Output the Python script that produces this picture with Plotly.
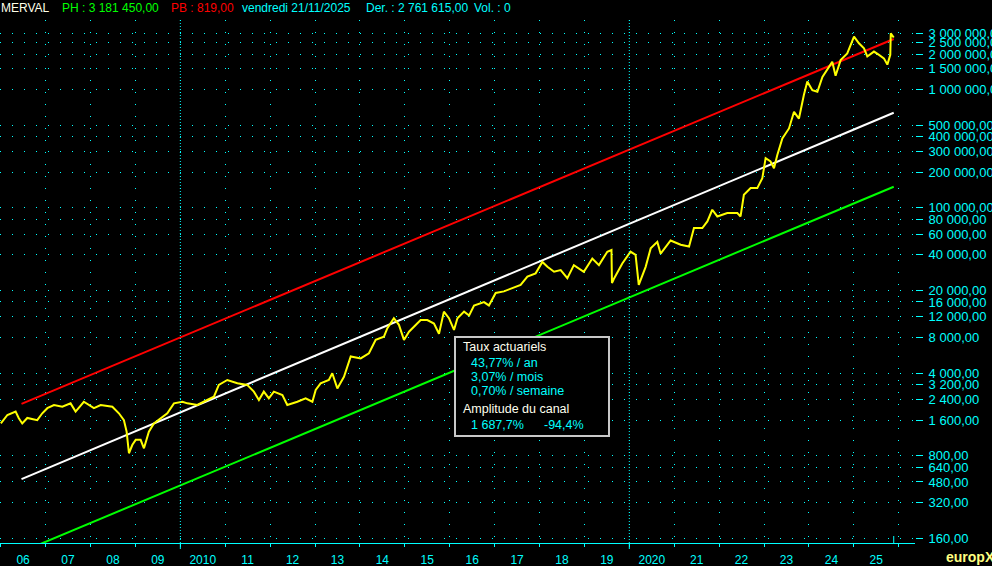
import plotly.graph_objects as go

# ---------------- data ----------------
price_dates = [
    "2006-01-02", "2006-02-24", "2006-05-02", "2006-05-28", "2006-06-25", "2006-08-05", "2006-10-25", "2006-12-05",
    "2007-01-15", "2007-03-10", "2007-05-17", "2007-07-23", "2007-09-02", "2007-11-08",
    "2008-01-29", "2008-03-24", "2008-06-27", "2008-08-19", "2008-09-29", "2008-10-21", "2008-11-09", "2008-12-07",
    "2009-01-03", "2009-02-12", "2009-03-11", "2009-04-20", "2009-05-31", "2009-07-24", "2009-09-17", "2009-11-10",
    "2010-01-18", "2010-02-27", "2010-05-19", "2010-08-08", "2010-10-01", "2010-11-10",
    "2011-01-18", "2011-04-10", "2011-06-29", "2011-08-22", "2011-10-02", "2011-11-11", "2011-12-22",
    "2012-02-01", "2012-04-10", "2012-05-20", "2012-08-10", "2012-10-16", "2012-12-10",
    "2013-01-06", "2013-02-15", "2013-04-23", "2013-05-21", "2013-07-01", "2013-08-24", "2013-10-18",
    "2014-01-07", "2014-03-15", "2014-05-09", "2014-07-15", "2014-08-12", "2014-10-04", "2014-11-14", "2014-12-25",
    "2015-02-04", "2015-05-10", "2015-07-03", "2015-08-26", "2015-10-06", "2015-11-15", "2015-12-26",
    "2016-02-05", "2016-03-04", "2016-04-27", "2016-06-07", "2016-07-17", "2016-10-06", "2016-11-15",
    "2017-01-09", "2017-03-17", "2017-05-25", "2017-07-31", "2017-09-24", "2017-11-30",
    "2018-01-24", "2018-03-06", "2018-04-29", "2018-06-22", "2018-08-15", "2018-10-07", "2018-12-27",
    "2019-03-06", "2019-04-29", "2019-07-06", "2019-08-09", "2019-08-13", "2019-08-28", "2019-11-05",
    "2020-01-11", "2020-02-21", "2020-03-18", "2020-05-13", "2020-06-23", "2020-08-16", "2020-09-12", "2020-12-02",
    "2021-02-22", "2021-05-01", "2021-06-10", "2021-08-17", "2021-09-27", "2021-11-06", "2021-12-17",
    "2022-03-08", "2022-05-29", "2022-06-24", "2022-07-21", "2022-09-14", "2022-11-07", "2022-12-18",
    "2023-01-14", "2023-02-23", "2023-03-23", "2023-04-19", "2023-05-30", "2023-07-23", "2023-09-02",
    "2023-10-12", "2023-11-21", "2023-12-19",
    "2024-01-29", "2024-03-10", "2024-04-20", "2024-07-09", "2024-08-05", "2024-09-15", "2024-11-08",
    "2025-01-02", "2025-02-11", "2025-03-24", "2025-04-20", "2025-06-13", "2025-07-24", "2025-09-02",
    "2025-09-30", "2025-10-24", "2025-10-28", "2025-11-05", "2025-11-21",
]
price_values = [
    1500, 1770, 1890, 1660, 1500, 1670, 1600, 1830,
    2020, 2150, 2080, 2220, 1890, 2290,
    2020, 2150, 2080, 1830, 1600, 1280, 840, 990,
    1090, 1090, 925, 1280, 1500, 1660, 1830, 2220,
    2290, 2220, 2150, 2370, 2530, 3180,
    3500, 3280, 3180, 2790, 2370, 2790, 2450,
    2790, 2610, 2150, 2290, 2450, 2290,
    2880, 3280, 3500, 3990, 2970, 3730, 5530,
    5330, 5890, 7640, 8140, 9590, 11660, 10250, 7640,
    8970, 11250, 11250, 10500, 8620, 13250, 11660,
    9280, 11660, 13250, 12300, 14950, 15940, 14950,
    19080, 19670, 20970, 22350, 26210, 27950,
    34900, 31730, 28830, 29770, 25410, 32790, 28830,
    37250, 32790, 42570, 43970, 23100, 25000, 33880,
    42570, 40000, 22350, 31730, 45440, 51570, 41000, 53020,
    48760, 47130, 67440, 67440, 76860, 96450, 84630,
    90430, 90430, 84630, 129000, 147000, 147000, 178600,
    263200, 246800, 216700, 280000, 386000, 470000, 650000,
    570000, 900000, 1170000,
    990000, 960000, 1280000, 1720000, 1310000, 1780000, 2030000,
    2810000, 2470000, 2240000, 1910000, 2100000, 1970000, 1840000,
    1630000, 1970000, 3000000, 2900000, 2761615,
]

channel_dates = ["2006-06-19", "2025-11-21"]
channel_upper = [2200, 2686000]
channel_middle = [508, 638000]
channel_lower = [123, 151000]

ytick_values = [3000000, 2500000, 2000000, 1500000, 1000000, 500000, 400000, 300000, 200000,
                100000, 80000, 60000, 40000, 20000, 16000, 12000, 8000, 4000, 3200, 2400,
                1600, 800, 640, 480, 320, 160]
ytick_labels = ["3 000 000,00", "2 500 000,00", "2 000 000,00", "1 500 000,00", "1 000 000,00",
                "500 000,00", "400 000,00", "300 000,00", "200 000,00", "100 000,00", "80 000,00",
                "60 000,00", "40 000,00", "20 000,00", "16 000,00", "12 000,00", "8 000,00",
                "4 000,00", "3 200,00", "2 400,00", "1 600,00", "800,00", "640,00", "480,00",
                "320,00", "160,00"]

year_mid_dates = ["%d-07-02" % y for y in range(2006, 2026)]
year_labels = ["06", "07", "08", "09", "2010", "11", "12", "13", "14", "15", "16",
               "17", "18", "19", "2020", "21", "22", "23", "24", "25"]

# ---------------- layout helpers ----------------
W, H = 992, 566
ML, MR, MT, MB = 0, 77, 20, 23
PW, PH = W - ML - MR, H - MT - MB
CYAN = "#00ffff"
FONT = "Liberation Sans, Arial, sans-serif"


def px(x):
    return (x - ML) / PW


def py(y):
    return (H - MB - y) / PH


fig = go.Figure()

fig.add_trace(go.Scatter(x=channel_dates, y=channel_upper, mode="lines",
                         line=dict(color="#ff0000", width=2), hoverinfo="skip"))
fig.add_trace(go.Scatter(x=channel_dates, y=channel_middle, mode="lines",
                         line=dict(color="#ffffff", width=2), hoverinfo="skip"))
fig.add_trace(go.Scatter(x=channel_dates, y=channel_lower, mode="lines",
                         line=dict(color="#00ff00", width=2), hoverinfo="skip"))
fig.add_trace(go.Scatter(x=price_dates, y=price_values, mode="lines",
                         line=dict(color="#ffff00", width=2), hoverinfo="skip"))

fig.update_layout(
    width=W, height=H, autosize=False,
    margin=dict(l=ML, r=MR, t=MT, b=MB, pad=0, autoexpand=False),
    paper_bgcolor="#000000", plot_bgcolor="#000000",
    showlegend=False,
    font=dict(family=FONT, size=12, color=CYAN),
)

fig.update_xaxes(
    type="date", automargin=False,
    range=["2005-12-26", "2026-05-13"],
    tickmode="array", tickvals=year_mid_dates, ticktext=year_labels,
    ticks="outside", ticklen=6, tickcolor="rgba(0,0,0,0)",
    tickfont=dict(family=FONT, size=12, color=CYAN),
    showgrid=False, zeroline=False,
    showline=True, linecolor=CYAN, linewidth=1,
    minor=dict(tickmode="linear", tick0="2006-01-01", dtick="M12", ticks="outside", ticklen=3,
               tickcolor=CYAN, showgrid=True, gridcolor=CYAN, gridwidth=1, griddash="1px,11px"),
)

fig.update_yaxes(
    type="log", side="right", automargin=False,
    range=[2.165, 6.5895],
    tickmode="array", tickvals=ytick_values, ticktext=ytick_labels,
    ticks="outside", ticklen=7, tickcolor=CYAN, tickwidth=1,
    ticklabelstandoff=3,
    tickfont=dict(family=FONT, size=13, color=CYAN),
    showgrid=True, gridcolor=CYAN, gridwidth=1, griddash="1px,11px",
    zeroline=False, showline=False,
)

shapes = []
for d in ["2010-01-01", "2020-01-01"]:
    shapes.append(dict(type="line", xref="x", yref="paper", x0=d, x1=d, y0=0, y1=1,
                       line=dict(color=CYAN, width=1, dash="1px,2px")))
    shapes.append(dict(type="line", xref="x", yref="paper", x0=d, x1=d, y0=0, y1=-6 / PH,
                       line=dict(color=CYAN, width=1)))
shapes.append(dict(type="line", xref="x", yref="paper", x0="2025-11-21", x1="2025-11-21",
                   y0=0, y1=7 / PH, line=dict(color=CYAN, width=1)))
# info box
shapes.append(dict(type="rect", xref="paper", yref="paper",
                   x0=px(455), x1=px(609), y0=py(436), y1=py(337),
                   fillcolor="#000000", line=dict(color="#c8c8c8", width=2), layer="above"))
fig.update_layout(shapes=shapes)

ann = []


def text(x, y, s, color, size=12, bold=False):
    ann.append(dict(xref="paper", yref="paper", x=px(x), y=py(y), xanchor="left", yanchor="middle",
                    text=("<b>%s</b>" % s) if bold else s, showarrow=False,
                    font=dict(family=FONT, size=size, color=color)))


# header
text(-1, 8, "MERVAL", "#ffffe8")
text(60, 8, "PH : 3 181 450,00", "#00ff00")
text(169, 8, "PB : 819,00", "#ff0000")
text(240, 8, "vendredi 21/11/2025", CYAN)
text(364, 8, "Der. : 2 761 615,00", CYAN)
text(472, 8, "Vol. : 0", CYAN)
# info box content
text(461, 347, "Taux actuariels", "#ffffee", 12.5)
text(469, 363.5, "43,77% / an", CYAN, 12.5)
text(469, 377.5, "3,07% / mois", CYAN, 12.5)
text(469, 391, "0,70% / semaine", CYAN, 12.5)
text(461, 409, "Amplitude du canal", "#ffffee", 12.5)
text(469, 425, "1 687,7%", CYAN, 12.5)
text(542, 425, "-94,4%", CYAN, 12.5)
# brand
text(944, 557, "europX", "#ffff80", 14, bold=True)
fig.update_layout(annotations=ann)

fig.write_html("out.html", include_plotlyjs=True, config={"displayModeBar": False, "staticPlot": True},
               post_script="document.body.style.margin='0';document.body.style.background='#000';")
